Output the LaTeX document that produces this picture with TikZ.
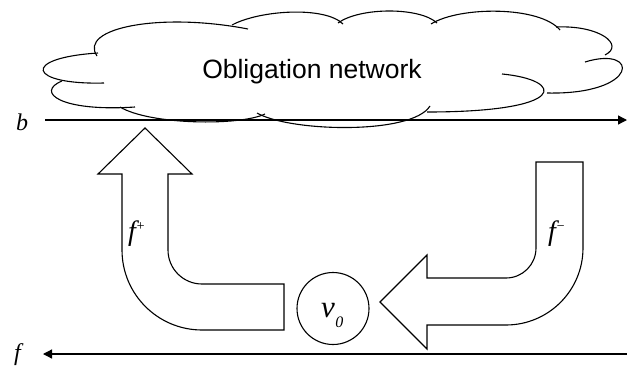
\documentclass[tikz,border=0pt]{standalone}
\usepackage{fontspec}
\setmainfont{Liberation Serif}
\newfontfamily\arialf{Liberation Sans}
\usetikzlibrary{arrows.meta}
\begin{document}
\begin{tikzpicture}[x=1pt,y=-1pt,
  bigarrow/.style={draw=black, line width=1.1pt, fill=white, line join=miter},
  cloudline/.style={draw=black, line width=1.1pt},
  axisline/.style={draw=black, line width=1.3pt, -{Triangle[length=9pt,width=9pt]}},
  mlbl/.style={inner sep=0pt, anchor=base west, font=\itshape},
  circ/.style={circle, draw=black, line width=1.1pt, minimum size=72pt, inner sep=0pt}]
\useasboundingbox (0,0) rectangle (627,367);
% cloud
\draw[cloudline] (97,56) .. controls (78,28) and (160,12) .. (248,29);
\draw[cloudline] (232,25) .. controls (260,10) and (325,6) .. (343,24);
\draw[cloudline] (338,23) .. controls (360,7) and (420,7) .. (437,23);
\draw[cloudline] (431,24) .. controls (460,6) and (540,6) .. (560,30);
\draw[cloudline] (556,27) .. controls (600,25) and (625,45) .. (605,55);
\draw[cloudline] (585,62) .. controls (640,45) and (640,95) .. (547,93);
\draw[cloudline] (502,74) .. controls (565,80) and (570,112) .. (427,112);
\draw[cloudline] (430,106) .. controls (412,135) and (290,132) .. (257,113);
\draw[cloudline] (120,107) .. controls (150,125) and (240,126) .. (265,114);
\draw[cloudline] (62,81) .. controls (35,92) and (60,112) .. (135,107);
\draw[cloudline] (98,53) .. controls (20,58) and (28,85) .. (104,83);
\node[inner sep=0pt, anchor=base, font=\arialf\fontsize{26.5}{30}\selectfont] (cloudtext) at (312,78) {Obligation network};
% axis lines
\node[mlbl, font=\itshape\fontsize{24}{26}\selectfont] (blbl) at (16,130) {b};
\node[mlbl, font=\itshape\fontsize{24}{26}\selectfont] (flbl) at (14,360) {f};
\coordinate (bstart) at (45,120);
\coordinate (bend) at (627,120);
\coordinate (fstart) at (627,354);
\coordinate (fend) at (43,354);
\draw[axisline] (bstart) -- (bend);
\draw[axisline] (fstart) -- (fend);
% left bent arrow f+
\draw[bigarrow] (145,128) -- (192,174) -- (168,174) -- (168,250)
  .. controls (168,268.8) and (183.2,284) .. (202,284) -- (284,284) -- (284,330) -- (202,330)
  .. controls (157.8,330) and (122,294.2) .. (122,250) -- (122,174) -- (98,174) -- cycle;
% right bent arrow f-
\draw[bigarrow] (536,162) -- (583,162) -- (583,248)
  .. controls (583,290.5) and (548.5,325) .. (506,325) -- (427,325) -- (427,349) -- (380,302)
  -- (427,255) -- (427,278) -- (506,278)
  .. controls (522.6,278) and (536,264.6) .. (536,248) -- cycle;
% labels
\node[mlbl, font=\itshape\fontsize{28}{30}\selectfont] (fplus) at (128,240) {f\raisebox{10pt}{\fontsize{14}{14}\selectfont +}};
\node[mlbl, font=\itshape\fontsize{28}{30}\selectfont] (fminus) at (548,240) {f\raisebox{10pt}{\fontsize{14}{14}\selectfont \char"2212}};
% v0
\node[circ] (v0) at (333,308.5) {};
\node[mlbl, font=\itshape\fontsize{31}{32}\selectfont] (v0text) at (321,317) {v\hspace{0.5pt}\raisebox{-10pt}{\fontsize{16}{16}\selectfont 0}};
\end{tikzpicture}
\end{document}
